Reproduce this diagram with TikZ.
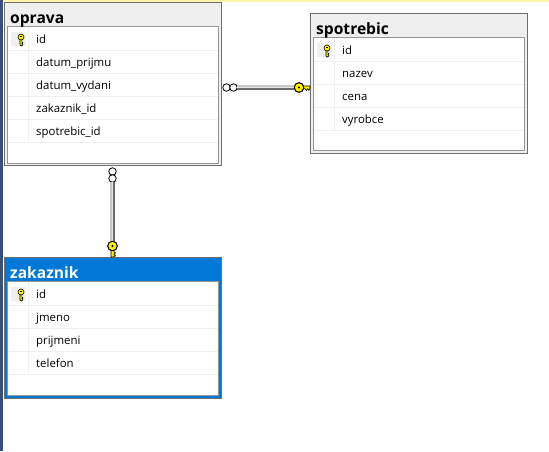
\documentclass[tikz,border=0pt]{standalone}
\usepackage{fontspec}
\setmainfont{Open Sans}
\definecolor{edgegray}{HTML}{6E6E6E}
\definecolor{innergray}{HTML}{969696}
\definecolor{titlegray}{HTML}{EFEFEF}
\definecolor{selblue}{HTML}{0078D7}
\definecolor{rowline}{HTML}{F0F0F0}
\definecolor{barblue}{HTML}{3B5078}
\definecolor{baryellow}{HTML}{FDF4A8}
\definecolor{keyyellow}{HTML}{FFF200}
\tikzset{
  x=1pt,y=-1pt,
  outerbox/.style={draw=edgegray,line width=1pt,anchor=north west,inner sep=0pt,outer sep=0pt,fill=titlegray},
  innerbox/.style={draw=innergray,line width=1pt,anchor=north west,inner sep=0pt,outer sep=0pt,fill=white},
  titletext/.style={anchor=base west,inner sep=0pt,font=\bfseries\fontsize{15.6}{17}\selectfont,text=black},
  rowtext/.style={anchor=base west,inner sep=0pt,font=\fontsize{11.4}{14}\selectfont,text=black},
  rowsep/.style={draw=rowline,line width=1pt},
  keycell/.style={fill=rowline,draw=none},
  optring/.style={circle,draw=black,fill=white,line width=.8pt,minimum size=7.5pt,inner sep=0pt,outer sep=0pt},
  keyhead/.style={circle,draw=black,fill=keyyellow,line width=.9pt,minimum size=9.5pt,inner sep=0pt,outer sep=0pt},
  linelight/.style={draw=black!22,line width=1.5pt},
  linemid/.style={draw=white!90!black,line width=1.2pt},
  linedark/.style={draw=black!58,line width=1.5pt},
  keybit/.style={fill=keyyellow,draw=black,line width=.6pt},
  smallkey/.pic={
    \path[keybit] (-1,2) -- (-1,8) -- (0.2,9) -- (1.8,8) -- (1.8,7.2) -- (0.9,6.6) -- (1.8,5.8) -- (0.9,5.2) -- (0.9,2) -- cycle;
    \path[keybit] (0,0) circle[radius=3];
    \fill[black] (-1,-1.2) rectangle (1,-0.4);
  },
}
\begin{document}
\begin{tikzpicture}
\useasboundingbox (0,0) rectangle (549,451);
\fill[white] (0,0) rectangle (549,451);
\fill[barblue] (0,0) rectangle (3,451);
\fill[baryellow] (3,0) rectangle (549,2);

% oprava
\node[outerbox,minimum width=217pt,minimum height=163pt] (oprava) at (4.5,2.5) {};
\node[innerbox,minimum width=211pt,minimum height=137pt] (opravaInner) at (7.5,26.5) {};
\fill[keycell] (11,32) rectangle (26,46);
\foreach \yy in {50.5,73.5,96.5,119.5,142.5} \draw[rowsep] (8,\yy) -- (218,\yy);
\draw[rowsep] (28.5,27) -- (28.5,142.5);
\node[titletext] (opravaTitle) at (10,23) {oprava};
\pic at (21,37) {smallkey};
\node[rowtext] (o1) at (36,43) {id};
\node[rowtext] (o2) at (36,66) {datum\_prijmu};
\node[rowtext] (o3) at (36,89) {datum\_vydani};
\node[rowtext] (o4) at (36,112) {zakaznik\_id};
\node[rowtext] (o5) at (36,135) {spotrebic\_id};

% spotrebic
\node[outerbox,minimum width=217pt,minimum height=139.5pt] (spotrebic) at (310.5,13.5) {};
\node[innerbox,minimum width=211pt,minimum height=113pt] (spotrebicInner) at (313.5,37.5) {};
\fill[keycell] (317,43) rectangle (332,57);
\foreach \yy in {61.5,84.5,107.5,130.5} \draw[rowsep] (314,\yy) -- (524,\yy);
\draw[rowsep] (334.5,38) -- (334.5,130.5);
\node[titletext] (spotrebicTitle) at (316,34) {spotrebic};
\pic at (327,48) {smallkey};
\node[rowtext] (s1) at (342,54) {id};
\node[rowtext] (s2) at (342,77) {nazev};
\node[rowtext] (s3) at (342,100) {cena};
\node[rowtext] (s4) at (342,123) {vyrobce};

% zakaznik
\node[outerbox,fill=selblue,minimum width=217pt,minimum height=141pt] (zakaznik) at (4.5,257.5) {};
\node[innerbox,minimum width=211pt,minimum height=113.5pt] (zakaznikInner) at (7.5,281.5) {};
\fill[keycell] (11,287) rectangle (26,301);
\foreach \yy in {305.5,328.5,351.5,374.5} \draw[rowsep] (8,\yy) -- (218,\yy);
\draw[rowsep] (28.5,282) -- (28.5,374.5);
\node[titletext,text=white] (zakaznikTitle) at (10,278) {zakaznik};
\pic at (21,292) {smallkey};
\node[rowtext] (z1) at (36,298) {id};
\node[rowtext] (z2) at (36,321) {jmeno};
\node[rowtext] (z3) at (36,344) {prijmeni};
\node[rowtext] (z4) at (36,367) {telefon};

% relationship oprava - spotrebic
\node[optring] (hA) at (226.5,87.5) {};
\node[optring] (hB) at (233.5,87.5) {};
\node[keyhead] (hKey) at (299,87.5) {};
\draw[linelight] ([yshift=1.5pt]hB.east) -- ([yshift=1.5pt]hKey.center);
\draw[linemid] (hB.east) -- (hKey.center);
\draw[linedark] ([yshift=-1.5pt]hB.east) -- ([yshift=-1.5pt]hKey.center);
\path[keybit] (302,86) -- (310,86) -- (310,88) -- (309,90.5) -- (307.6,88.6) -- (306.4,90.5) -- (305,88.6) -- (302,88.6) -- cycle;
\node[keyhead] at (hKey.center) {};
\fill[black] (hKey.center) circle[radius=1.1];

% relationship oprava - zakaznik
\node[optring] (vA) at (112.5,171.5) {};
\node[optring] (vB) at (112.5,178.5) {};
\node[keyhead] (vKey) at (112.5,246) {};
\draw[linelight] ([xshift=-1.5pt]vB.south) -- ([xshift=-1.5pt]vKey.center);
\draw[linemid] (vB.south) -- (vKey.center);
\draw[linedark] ([xshift=1.5pt]vB.south) -- ([xshift=1.5pt]vKey.center);
\path[keybit] (111,249) -- (111,257) -- (113.2,257) -- (115.5,255.8) -- (113.8,254.4) -- (115.5,253) -- (113.8,251.6) -- (113.8,249) -- cycle;
\node[keyhead] at (vKey.center) {};
\fill[black] (vKey.center) circle[radius=1.1];
\end{tikzpicture}
\end{document}
